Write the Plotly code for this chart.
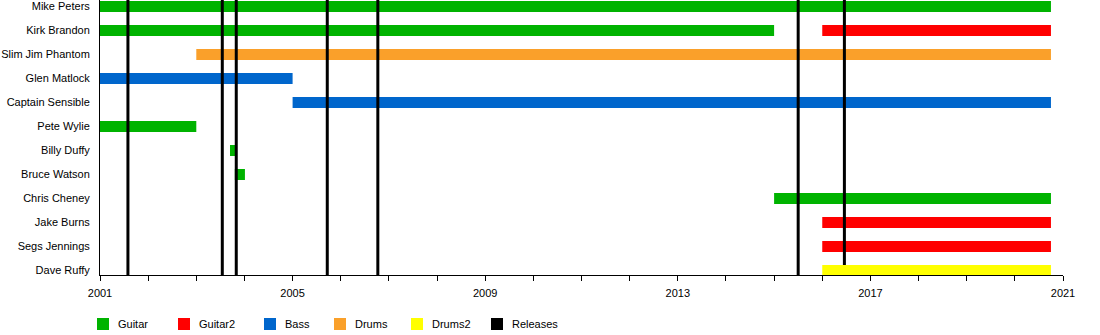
import plotly.graph_objects as go

# Band members, top to bottom
members = ["Mike Peters", "Kirk Brandon", "Slim Jim Phantom", "Glen Matlock",
           "Captain Sensible", "Pete Wylie", "Billy Duffy", "Bruce Watson",
           "Chris Cheney", "Jake Burns", "Segs Jennings", "Dave Ruffy"]

# Membership periods (decimal years)
period_member = ["Mike Peters", "Kirk Brandon", "Kirk Brandon", "Slim Jim Phantom",
                 "Glen Matlock", "Captain Sensible", "Pete Wylie", "Billy Duffy",
                 "Bruce Watson", "Chris Cheney", "Jake Burns", "Segs Jennings",
                 "Dave Ruffy"]
period_role = ["Guitar", "Guitar", "Guitar2", "Drums",
               "Bass", "Bass", "Guitar", "Guitar",
               "Guitar", "Guitar", "Guitar2", "Guitar2",
               "Drums2"]
period_start = [2001.0, 2001.0, 2016.0, 2003.0,
                2001.0, 2005.0, 2001.0, 2003.70,
                2003.80, 2015.0, 2016.0, 2016.0,
                2016.0]
period_end = [2020.75, 2015.0, 2020.75, 2020.75,
              2005.0, 2020.75, 2003.0, 2003.82,
              2004.01, 2020.75, 2020.75, 2020.75,
              2020.75]

# Album releases
releases = [2001.58, 2003.54, 2003.83, 2005.72, 2006.77, 2015.50, 2016.46]

roles = ["Guitar", "Guitar2", "Bass", "Drums", "Drums2", "Releases"]
role_colors = {
    "Guitar": "#00B300",
    "Guitar2": "#FF0000",
    "Bass": "#0066CC",
    "Drums": "#FAA02A",
    "Drums2": "#FFFF00",
    "Releases": "#000000",
}

year_start, year_end = 2001, 2021
major_years = [2001, 2005, 2009, 2013, 2017, 2021]

FONT = "Liberation Sans, Arial, sans-serif"
W, H = 1100, 335
ML, MR, MT, MB = 100, 37, 0, 60
plot_h = H - MT - MB
row_px = 24
first_row_px = 6.5
bar_px = 11

y_low = (plot_h - first_row_px) / row_px
y_high = -first_row_px / row_px
y_range = [y_low, y_high]

fig = go.Figure()

# Bars for each role (Drums2 goes on an overlay axis so it sits above the release lines)
for role in roles[:-1]:
    idx = [i for i, r in enumerate(period_role) if r == role]
    fig.add_trace(go.Bar(
        orientation="h",
        y=[members.index(period_member[i]) for i in idx],
        x=[period_end[i] - period_start[i] for i in idx],
        base=[period_start[i] for i in idx],
        width=bar_px / row_px,
        marker=dict(color=role_colors[role], line=dict(width=0)),
        name=role,
        showlegend=False,
        yaxis="y3" if role == "Drums2" else "y",
    ))

# Release markers as vertical lines
rx, ry = [], []
for r in releases:
    rx += [r, r, None]
    ry += [y_high, y_low, None]
fig.add_trace(go.Scatter(
    x=rx, y=ry, mode="lines",
    line=dict(color=role_colors["Releases"], width=3),
    showlegend=False, yaxis="y2", hoverinfo="skip",
))

# Custom legend row
legend_square_px = [97, 178, 264, 334, 411, 491]
legend_y_px = 324
sq = 12
plot_w = W - ML - MR
shapes, annotations = [], []
for role, px in zip(roles, legend_square_px):
    x0 = (px - ML) / plot_w
    x1 = (px + sq - ML) / plot_w
    y0 = (plot_h - (legend_y_px + sq / 2)) / plot_h
    y1 = (plot_h - (legend_y_px - sq / 2)) / plot_h
    shapes.append(dict(type="rect", xref="paper", yref="paper",
                       x0=x0, x1=x1, y0=y0, y1=y1,
                       fillcolor=role_colors[role], line=dict(width=0)))
    annotations.append(dict(xref="paper", yref="paper",
                            x=(px + sq + 7 - ML) / plot_w,
                            y=(plot_h - legend_y_px) / plot_h,
                            xanchor="left", yanchor="middle", showarrow=False,
                            text=role, font=dict(family=FONT, size=11, color="#000")))

tick_years = list(range(year_start, year_end + 1))
tick_text = [str(y) if y in major_years else "" for y in tick_years]

common_y = dict(range=y_range, showgrid=False, zeroline=False, fixedrange=True)

fig.update_layout(
    width=W, height=H,
    margin=dict(l=ML, r=MR, t=MT, b=MB),
    paper_bgcolor="white", plot_bgcolor="white",
    barmode="overlay",
    font=dict(family=FONT, size=11, color="#000"),
    xaxis=dict(range=[year_start, year_end], tickmode="array",
               tickvals=tick_years, ticktext=tick_text,
               ticks="outside", ticklen=5, tickwidth=1, tickcolor="#000",
               showline=True, linecolor="#000", linewidth=1,
               showgrid=False, zeroline=False, ticklabelstandoff=3,
               tickfont=dict(family=FONT, size=11, color="#000")),
    yaxis=dict(**common_y, tickmode="array",
               tickvals=list(range(len(members))), ticktext=members,
               ticks="", showline=True, linecolor="#000", linewidth=1,
               ticklabelstandoff=7,
               tickfont=dict(family=FONT, size=11, color="#000")),
    yaxis2=dict(**common_y, overlaying="y", visible=False),
    yaxis3=dict(**common_y, overlaying="y", visible=False),
    shapes=shapes,
    annotations=annotations,
)

fig.write_html("out.html")
